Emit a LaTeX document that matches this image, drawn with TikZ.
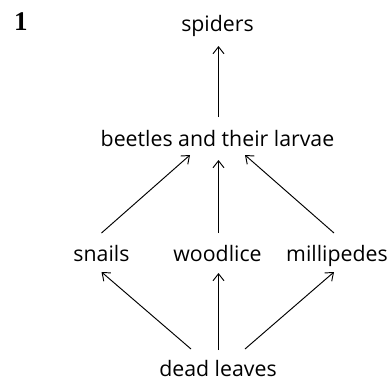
\documentclass[tikz,border=0pt]{standalone}
\usepackage{fontspec}
\setmainfont{Open Sans}
\newfontfamily\numfont{Liberation Serif}
\usetikzlibrary{arrows.meta,calc}
\tikzset{
  lbl/.style={inner sep=0pt, anchor=base, font=\fontsize{21.3bp}{25bp}\selectfont},
  arr/.style={-{Straight Barb[length=7bp,width=11bp]}, line width=0.95bp}
}
\begin{document}
\begin{tikzpicture}[x=1bp,y=-1bp]
\useasboundingbox (0,0) rectangle (389,381);
\node[inner sep=0pt, anchor=base west, font=\numfont\bfseries\fontsize{27bp}{32bp}\selectfont] (num) at (14,30) {1};
\node[lbl] (spiders) at (217.5,31) {spiders};
\node[lbl] (beetles) at (217.5,146.5) {beetles and their larvae};
\node[lbl] (snails) at (101.5,261) {snails};
\node[lbl] (woodlice) at (217.5,261) {woodlice};
\node[lbl] (milli) at (337,261) {millipedes};
\node[lbl] (dead) at (218,376) {dead leaves};
% beetles -> spiders
\draw[arr] ($(beetles.base)+(1,-29.5)$) -- ($(spiders.base)+(1,15)$);
% second level -> beetles
\draw[arr] ($(snails.base)+(0,-28)$) -- ($(beetles.base)+(-27.5,8.5)$);
\draw[arr] ($(woodlice.base)+(1,-28)$) -- ($(beetles.base)+(1,13.5)$);
\draw[arr] ($(milli.base)+(-3,-28)$) -- ($(beetles.base)+(27.5,8.5)$);
% dead leaves -> second level
\draw[arr] ($(dead.base)+(-27,-27)$) -- ($(snails.base)+(0,11)$);
\draw[arr] ($(dead.base)+(0.5,-26)$) -- ($(woodlice.base)+(1,12)$);
\draw[arr] ($(dead.base)+(27,-27)$) -- ($(milli.base)+(-3,11)$);
\end{tikzpicture}
\end{document}
